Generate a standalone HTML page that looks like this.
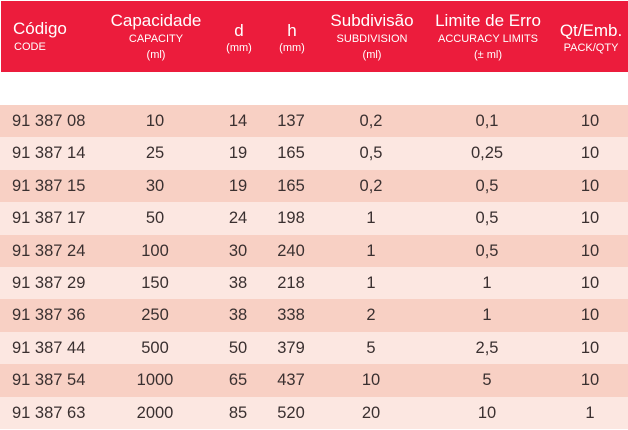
<!DOCTYPE html>
<html><head><meta charset="utf-8"><style>
body{margin:0;width:628px;height:430px;background:#fff;font-family:"Liberation Sans",sans-serif;position:relative;overflow:hidden;color:#3a3030}
.hdr{position:absolute;left:1px;top:1px;width:627px;height:71px;background:#ec1c3c;color:#fff}
.t{position:absolute;white-space:nowrap;transform:translateX(-50%);text-align:center}
.big{font-size:17px}
.sm{font-size:11px}
.row{position:absolute;left:0;width:628px;height:32.4px;font-size:16.5px}
.row span{position:absolute;top:7px;transform:translateX(-50%);white-space:nowrap}
.row span.c{transform:none;left:12px}
.o{background:#f8d0c4}.e{background:#fce7e1}
</style></head><body>
<div class="hdr">
<div class="t big" style="left:12px;transform:none;top:18px">Código</div>
<div class="t sm" style="left:13px;transform:none;top:40px">CODE</div>
<div class="t big" style="left:155px;top:10px">Capacidade</div>
<div class="t sm" style="left:155px;top:32px">CAPACITY</div>
<div class="t sm" style="left:155px;top:48px">(ml)</div>
<div class="t big" style="left:238px;top:20px">d</div>
<div class="t sm" style="left:238px;top:41px">(mm)</div>
<div class="t big" style="left:291px;top:20px">h</div>
<div class="t sm" style="left:291px;top:41px">(mm)</div>
<div class="t big" style="left:371px;top:10px">Subdivisão</div>
<div class="t sm" style="left:371px;top:32px">SUBDIVISION</div>
<div class="t sm" style="left:371px;top:48px">(ml)</div>
<div class="t big" style="left:487px;top:10px">Limite de Erro</div>
<div class="t sm" style="left:487px;top:32px">ACCURACY LIMITS</div>
<div class="t sm" style="left:487px;top:48px">(± ml)</div>
<div class="t big" style="left:590px;top:20px">Qt/Emb.</div>
<div class="t sm" style="left:590px;top:41px">PACK/QTY</div>
</div>
<div class="row o" style="top:105px"><span class="c">91 387 08</span><span style="left:155px">10</span><span style="left:238px">14</span><span style="left:291px">137</span><span style="left:371px">0,2</span><span style="left:487px">0,1</span><span style="left:590px">10</span></div>
<div class="row e" style="top:137.4px"><span class="c">91 387 14</span><span style="left:155px">25</span><span style="left:238px">19</span><span style="left:291px">165</span><span style="left:371px">0,5</span><span style="left:487px">0,25</span><span style="left:590px">10</span></div>
<div class="row o" style="top:169.8px"><span class="c">91 387 15</span><span style="left:155px">30</span><span style="left:238px">19</span><span style="left:291px">165</span><span style="left:371px">0,2</span><span style="left:487px">0,5</span><span style="left:590px">10</span></div>
<div class="row e" style="top:202.2px"><span class="c">91 387 17</span><span style="left:155px">50</span><span style="left:238px">24</span><span style="left:291px">198</span><span style="left:371px">1</span><span style="left:487px">0,5</span><span style="left:590px">10</span></div>
<div class="row o" style="top:234.6px"><span class="c">91 387 24</span><span style="left:155px">100</span><span style="left:238px">30</span><span style="left:291px">240</span><span style="left:371px">1</span><span style="left:487px">0,5</span><span style="left:590px">10</span></div>
<div class="row e" style="top:267px"><span class="c">91 387 29</span><span style="left:155px">150</span><span style="left:238px">38</span><span style="left:291px">218</span><span style="left:371px">1</span><span style="left:487px">1</span><span style="left:590px">10</span></div>
<div class="row o" style="top:299.4px"><span class="c">91 387 36</span><span style="left:155px">250</span><span style="left:238px">38</span><span style="left:291px">338</span><span style="left:371px">2</span><span style="left:487px">1</span><span style="left:590px">10</span></div>
<div class="row e" style="top:331.8px"><span class="c">91 387 44</span><span style="left:155px">500</span><span style="left:238px">50</span><span style="left:291px">379</span><span style="left:371px">5</span><span style="left:487px">2,5</span><span style="left:590px">10</span></div>
<div class="row o" style="top:364.2px"><span class="c">91 387 54</span><span style="left:155px">1000</span><span style="left:238px">65</span><span style="left:291px">437</span><span style="left:371px">10</span><span style="left:487px">5</span><span style="left:590px">10</span></div>
<div class="row e" style="top:396.6px"><span class="c">91 387 63</span><span style="left:155px">2000</span><span style="left:238px">85</span><span style="left:291px">520</span><span style="left:371px">20</span><span style="left:487px">10</span><span style="left:590px">1</span></div>
</body></html>
